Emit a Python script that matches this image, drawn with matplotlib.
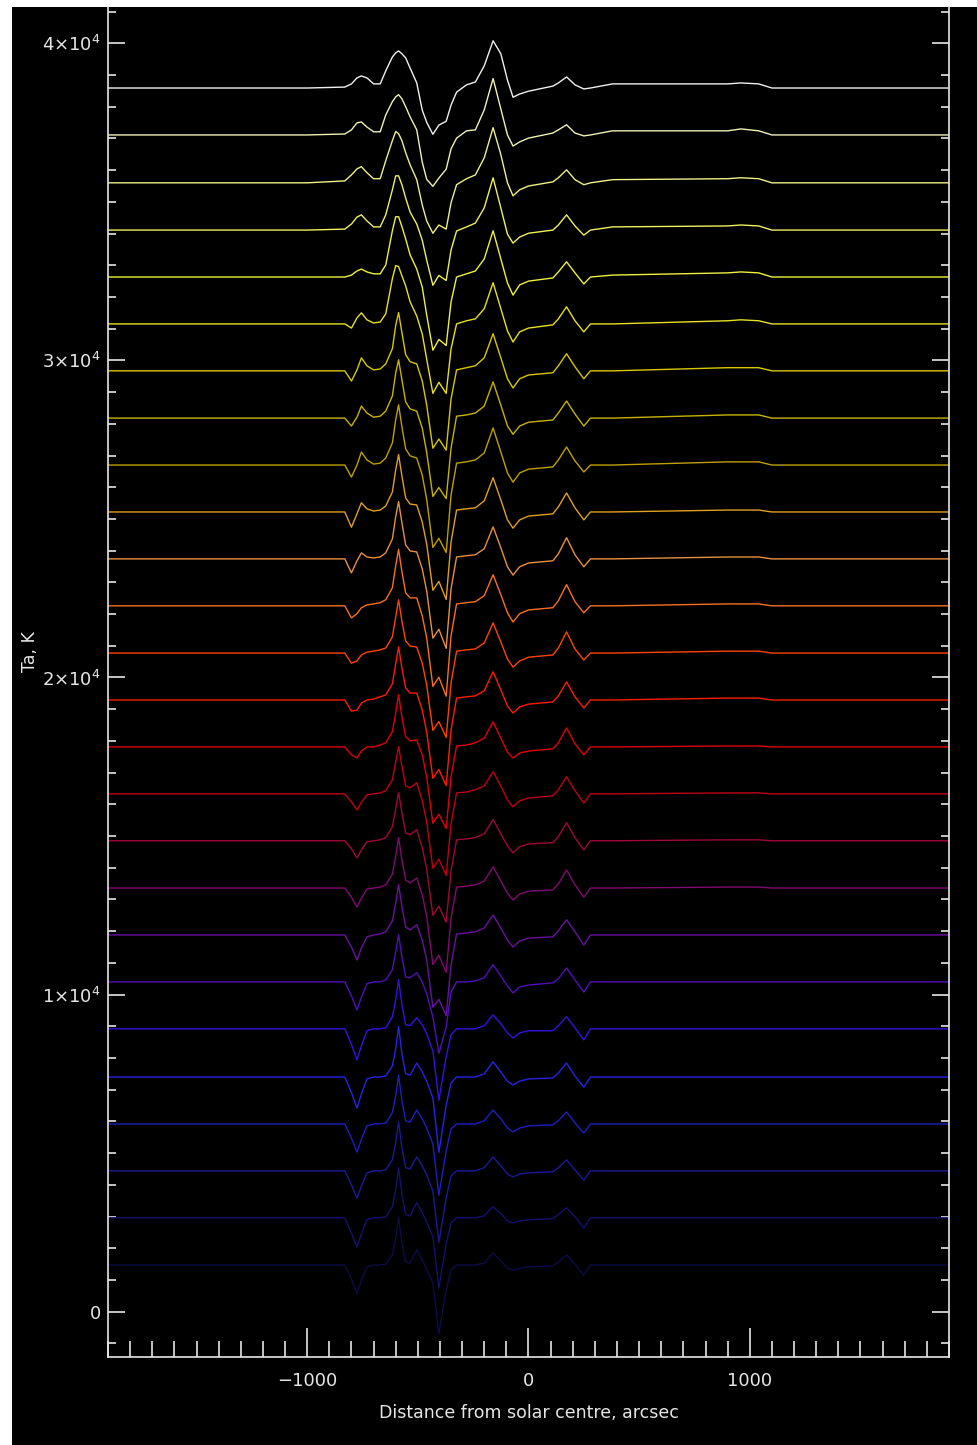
import numpy as np
import matplotlib
matplotlib.use("Agg")
import matplotlib.pyplot as plt
from matplotlib.ticker import MultipleLocator, FixedLocator
from matplotlib.patches import Rectangle

x_knots = [-1900, -1000, -830, -800, -775, -755, -730, -700, -670, -645,
           -615, -600, -587, -572, -555, -535, -505, -480, -460, -432,
           -405, -372, -350, -325, -280, -240, -200, -160, -125, -95,
           -70, -40, 0, 110, 135, 172, 210, 250, 280, 380,
           900, 960, 1040, 1100, 1900]

# vertical offset of every scan (K), bottom to top
offsets = [1470, 2960, 4440, 5920, 7400, 8920, 10400, 11880, 13360, 14850,
           16330, 17810, 19290, 20770, 22260, 23740, 25220, 26700, 28180, 29670,
           31150, 32630, 34110, 35600, 37110, 38590]

# antenna temperature relative to each offset (K)
c00 = [0, 0, 0, -440, -890, -480, -60, 0, 0, 30, 320, 820, 1520, 700, 100, 60, 480, 160, -130, -570,
       -2160, -790, -160, 0, 0, 0, 60, 380, 130, -100, -160, -100, -60, -30, 100, 320, 30, -320, 0, 0,
       0, 0, 0, 0, 0]
c01 = [0, 0, 0, -480, -920, -510, -60, 0, 0, 30, 350, 890, 1590, 730, 100, 60, 480, 160, -130, -600,
       -2220, -820, -160, 0, 0, 0, 60, 350, 130, -100, -160, -100, -60, -30, 100, 320, 30, -320, 0, 0,
       0, 0, 0, 0, 0]
c02 = [0, 0, 0, -440, -860, -480, -60, 0, 0, 30, 350, 890, 1550, 730, 100, 60, 440, 160, -130, -630,
       -2250, -860, -160, 0, 0, 0, 100, 440, 160, -100, -190, -100, -60, -30, 100, 350, 30, -290, 0, 0,
       0, 0, 0, 0, 0]
c03 = [0, 0, 0, -440, -890, -480, -60, 0, 0, 30, 350, 890, 1550, 730, 100, 60, 440, 160, -130, -630,
       -2250, -860, -160, 0, 0, 0, 100, 440, 160, -130, -250, -130, -60, -30, 100, 380, 30, -290, 0, 0,
       0, 0, 0, 0, 0]
c04 = [0, 0, 0, -490, -980, -540, -60, 0, 0, 30, 350, 890, 1590, 730, 100, 60, 440, 160, -130, -660,
       -2380, -890, -190, 0, 0, 0, 100, 480, 160, -130, -250, -130, -60, -30, 130, 440, 30, -320, 0, 0,
       0, 0, 0, 0, 0]
c05 = [0, 0, 0, -490, -980, -540, -60, 0, 0, 30, 380, 920, 1550, 760, 130, 100, 350, 130, -160, -700,
       -2250, -890, -190, 0, 0, 0, 100, 440, 160, -130, -290, -130, -60, -60, 100, 380, 30, -350, 0, 0,
       0, 0, 0, 0, 0]
c06 = [0, 0, 0, -440, -890, -480, -60, 0, 0, 60, 380, 950, 1490, 790, 160, 130, 290, 0, -380, -1110,
       -2250, -1430, -320, 0, 0, 30, 130, 540, 190, -130, -350, -160, -100, -30, 100, 440, 60, -320, 0, 0,
       0, 0, 0, 0, 0]
c07 = [0, 0, 0, -380, -790, -410, -60, 0, 30, 100, 440, 1010, 1590, 890, 250, 160, 320, -160, -790, -2280,
       -2030, -2540, -950, 30, 60, 100, 220, 630, 220, -160, -380, -190, -100, -60, 130, 480, 100, -320, 0, 0,
       0, 0, 0, 0, 0]
c08 = [0, 0, 0, -290, -600, -320, -30, 0, 30, 100, 440, 1010, 1590, 890, 250, 160, 320, -220, -890, -2410,
       -2120, -2660, -950, 30, 60, 100, 220, 670, 220, -160, -380, -190, -100, -60, 130, 570, 100, -290, 0, 0,
       30, 30, 30, 0, 0]
c09 = [0, 0, 0, -250, -540, -290, -30, 0, 30, 100, 440, 1010, 1520, 890, 250, 190, 350, -220, -890, -2350,
       -2060, -2570, -950, 30, 60, 100, 220, 670, 220, -160, -380, -190, -100, -60, 130, 570, 100, -290, 0, 0,
       30, 30, 30, 0, 0]
c10 = [0, 0, 0, -250, -510, -270, -30, 0, 30, 100, 440, 1010, 1490, 890, 250, 190, 350, -220, -890, -2350,
       -2060, -2570, -950, 30, 60, 130, 250, 700, 250, -190, -410, -220, -130, -60, 130, 540, 100, -290, 0, 0,
       30, 30, 30, 0, 0]
c11 = [0, 0, 0, -250, -350, -130, 0, 0, 60, 130, 480, 1080, 1650, 950, 320, 190, 220, -250, -950, -2410,
       -2120, -2570, -950, 30, 60, 130, 280, 790, 280, -160, -350, -190, -130, -60, 130, 600, 100, -250, 0, 0,
       30, 30, 30, 0, 0]
c12 = [0, 0, 0, -350, -320, -100, 0, 30, 100, 160, 510, 1140, 1680, 1010, 380, 220, 220, -320, -1010, -2470,
       -2190, -2700, -950, 60, 100, 130, 290, 890, 320, -190, -410, -220, -130, -60, 130, 570, 100, -250, 0, 0,
       60, 60, 60, 0, 0]
c13 = [0, 0, 0, -320, -250, -60, 30, 60, 100, 160, 510, 1140, 1680, 1010, 380, 220, 190, -320, -1010, -2440,
       -2160, -2660, -950, 60, 100, 130, 320, 950, 350, -190, -440, -250, -130, -60, 160, 670, 130, -220, 0, 0,
       60, 60, 60, 0, 0]
c14 = [0, 0, 0, -380, -250, -60, 30, 60, 100, 190, 570, 1270, 1780, 1080, 410, 250, 250, -320, -1010, -2540,
       -2250, -2850, -950, 60, 100, 130, 320, 980, 350, -220, -510, -250, -130, -60, 160, 670, 130, -220, 0, 0,
       60, 60, 60, 0, 0]
c15 = [0, 0, 0, -440, -60, 190, 60, 30, 60, 190, 630, 1330, 1810, 1140, 440, 250, 220, -320, -1010, -2500,
       -2220, -2820, -950, 60, 100, 130, 320, 1010, 350, -250, -510, -250, -130, -60, 160, 670, 130, -250, 0, 0,
       60, 60, 60, 0, 0]
c16 = [0, 0, 0, -480, -60, 290, 100, 30, 60, 190, 630, 1330, 1810, 1140, 440, 250, 220, -320, -1010, -2470,
       -2190, -2760, -950, 60, 100, 130, 350, 1080, 380, -250, -510, -250, -130, -60, 160, 600, 130, -250, 0, 0,
       60, 60, 60, 0, 0]
c17 = [0, 0, 0, -380, 0, 410, 160, 30, 60, 220, 700, 1430, 1900, 1210, 510, 290, 220, -320, -1080, -2600,
       -2310, -2760, -950, 60, 100, 160, 380, 1170, 410, -250, -540, -250, -130, -60, 160, 570, 130, -220, 0, 0,
       100, 100, 100, 0, 0]
c18 = [0, 0, 0, -250, 30, 380, 160, 30, 60, 220, 700, 1430, 1840, 1210, 510, 290, 220, -320, -1080, -2470,
       -2190, -2540, -950, 60, 100, 160, 380, 1140, 410, -250, -510, -250, -130, -60, 160, 540, 130, -250, 0, 0,
       100, 100, 100, 0, 0]
c19 = [0, 0, 0, -320, 30, 410, 160, 30, 60, 220, 700, 1430, 1840, 1210, 510, 290, 220, -320, -1080, -2440,
       -2150, -2500, -890, 30, 100, 160, 410, 1170, 410, -250, -540, -250, -130, -60, 160, 540, 130, -250, 0, 0,
       100, 100, 100, 0, 0]
c20 = [0, 0, 0, -130, 190, 350, 130, 30, 60, 320, 1430, 1840, 1810, 1520, 1200, 700, 250, -320, -1110, -2190,
       -1840, -2190, -790, 0, 100, 160, 480, 1300, 480, -220, -570, -250, -130, -30, 160, 540, 100, -250, 0, 0,
       100, 130, 100, 0, 0]
c21 = [0, 0, 0, 60, 190, 250, 160, 100, 100, 380, 1460, 1900, 1900, 1590, 1200, 700, 250, -320, -1200, -2310,
       -1970, -2160, -790, 0, 100, 190, 570, 1460, 570, -190, -570, -250, -130, -30, 160, 480, 130, -220, 0, 60,
       130, 160, 130, 0, 0]
c22 = [0, 0, 30, 190, 410, 480, 290, 100, 100, 480, 1270, 1710, 1710, 1430, 1010, 570, 190, -320, -950, -1740,
       -1430, -1590, -630, -30, 100, 220, 700, 1650, 700, -130, -410, -220, -100, 0, 160, 480, 130, -160, 0, 100,
       130, 160, 130, 0, 0]
c23 = [0, 0, 60, 250, 440, 510, 320, 130, 130, 700, 1330, 1620, 1550, 1330, 950, 570, 100, -700, -1200, -1590,
       -1330, -1460, -630, -60, 130, 250, 790, 1740, 890, 0, -410, -220, -100, 30, 160, 410, 100, -60, 0, 100,
       130, 160, 130, 0, 0]
c24 = [0, 0, 30, 160, 380, 410, 250, 100, 100, 630, 1050, 1200, 1270, 1140, 890, 570, 160, -860, -1400, -1620,
       -1360, -1080, -440, -100, 130, 160, 790, 1780, 820, 0, -350, -220, -100, 60, 160, 320, 60, -30, 0, 130,
       130, 190, 130, 0, 0]
c25 = [0, 0, 30, 130, 320, 380, 320, 130, 130, 540, 980, 1110, 1170, 1080, 950, 630, 160, -700, -1080, -1460,
       -1170, -1050, -540, -130, 100, 190, 700, 1490, 1080, 250, -290, -190, -100, 60, 160, 350, 100, -30, 0, 130,
       130, 160, 130, 0, 0]

profiles = [c00, c01, c02, c03, c04, c05, c06, c07, c08, c09, c10, c11, c12,
            c13, c14, c15, c16, c17, c18, c19, c20, c21, c22, c23, c24, c25]

line_colors = ["#0c0c48", "#12126e", "#1a1a98", "#1e1ec0", "#2424e4", "#3212e0",
               "#5010b8", "#6a10a0", "#820a70", "#a00838", "#c00014", "#e00008",
               "#ff1c00", "#ff4400", "#f87020", "#e89040", "#e0a020", "#c0a000",
               "#c8b400", "#d8c800", "#e8e020", "#f0f040", "#f0f060", "#f0f088",
               "#f0f0b8", "#f0f0f0"]

fg = "#e6e6e6"

fig = plt.figure(figsize=(9.78, 14.45), dpi=100, facecolor="white")
# black plotting page, leaving the thin white margin on the left and top
fig.patches.append(Rectangle((12 / 978, 0), 966 / 978, 1438 / 1445,
                             transform=fig.transFigure, facecolor="black",
                             edgecolor="none", zorder=-100))
ax = fig.add_axes([108 / 978, 88 / 1445, 841 / 978, 1350 / 1445])
ax.set_facecolor("black")

for off, prof, col in zip(offsets, profiles, line_colors):
    ax.plot(x_knots, np.array(prof) + off, color=col, lw=1.0)

ax.set_xlim(-1900, 1900)
ax.set_ylim(-1430, 41145)

for side in ["left", "right", "bottom"]:
    ax.spines[side].set_color(fg)
    ax.spines[side].set_linewidth(1.2)
ax.spines["top"].set_visible(False)

ax.xaxis.set_major_locator(FixedLocator([-1000, 0, 1000]))
ax.xaxis.set_minor_locator(MultipleLocator(100))
ax.yaxis.set_major_locator(FixedLocator([0, 10000, 20000, 30000, 40000]))
ax.yaxis.set_minor_locator(MultipleLocator(1000))
ax.set_xticklabels(["\u22121000", "0", "1000"])
ax.set_yticklabels(["0", r"$1{\times}10^{4}$", r"$2{\times}10^{4}$",
                    r"$3{\times}10^{4}$", r"$4{\times}10^{4}$"])

ax.tick_params(axis="x", which="major", direction="in", length=21, width=1.2,
               colors=fg, top=False, pad=11, labelsize=13)
ax.tick_params(axis="x", which="minor", direction="in", length=11.5, width=1.2,
               colors=fg, top=False)
ax.tick_params(axis="y", which="major", direction="in", length=12.5, width=1.2,
               colors=fg, left=True, right=True, pad=5, labelsize=13)
ax.tick_params(axis="y", which="minor", direction="in", length=6, width=1.2,
               colors=fg, left=True, right=True)

ax.set_xlabel("Distance from solar centre, arcsec", color=fg, fontsize=12.5, labelpad=10)
fig.text(30 / 978, 1 - 652 / 1445, "Ta, K", color=fg, fontsize=12.5,
         rotation=90, ha="center", va="center")

fig.savefig("out.png", dpi=100, facecolor=fig.get_facecolor())
